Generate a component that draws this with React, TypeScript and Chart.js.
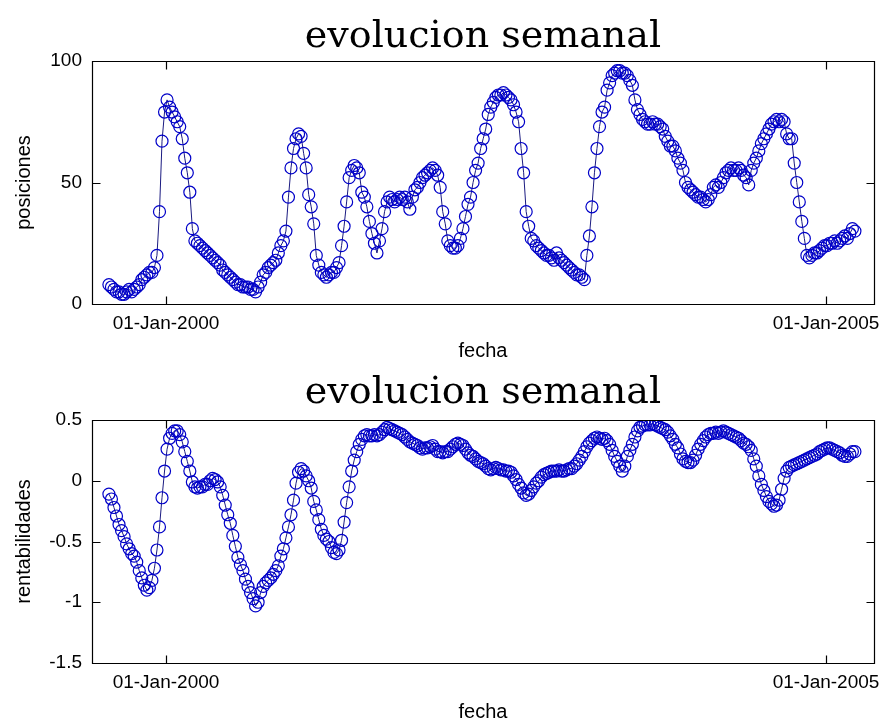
import React, { useEffect, useRef } from "react";
import { Chart, registerables } from "chart.js";

Chart.register(...registerables);

// Weekly samples: first sample is 158 days before 01-Jan-2000, one every 7 days
const FIRST_DAY = -158;
const STEP_DAYS = 7;

const posiciones: number[] = [
  8, 7, 6, 5, 5, 4, 4, 5, 6, 5,
  6, 7, 8, 10, 11, 12, 13, 13, 15, 20,
  38, 67, 79, 84, 81, 79, 77, 75, 73, 68,
  60, 54, 46, 31, 26, 25, 24, 23, 22, 21,
  20, 19, 18, 17, 16, 14, 13, 12, 11, 10,
  9, 8, 8, 7, 7, 7, 6, 6, 5, 7,
  9, 12, 13, 15, 16, 17, 18, 21, 24, 26,
  30, 44, 56, 64, 68, 70, 69, 62, 56, 45,
  40, 33, 20, 16, 13, 12, 11, 12, 13, 13,
  15, 17, 24, 32, 42, 52, 55, 57, 56, 54,
  46, 44, 40, 34, 29, 25, 21, 26, 31, 38,
  42, 44, 43, 42, 43, 44, 43, 44, 42, 39,
  44, 47, 48, 50, 52, 53, 54, 55, 56, 55,
  53, 48, 38, 33, 26, 24, 23, 23, 24, 27,
  31, 36, 41, 44, 50, 55, 58, 64, 68, 72,
  78, 81, 83, 85, 86, 86, 87, 86, 85, 84,
  82, 79, 75, 64, 54, 38, 32, 27, 26, 24,
  23, 22, 21, 20, 20, 19, 18, 21, 19, 18,
  17, 16, 15, 14, 13, 12, 12, 11, 10, 20,
  28, 40, 54, 64, 73, 79, 81, 88, 91, 94,
  95, 96, 96, 95, 95, 94, 92, 90, 84, 80,
  78, 76, 75, 74, 74, 75, 74, 74, 73, 72,
  69, 67, 65, 65, 63, 60, 58, 55, 50, 48,
  47, 46, 45, 44, 44, 43, 42, 43, 45, 48,
  49, 48, 50, 52, 54, 55, 56, 55, 55, 56,
  55, 53, 52, 49, 55, 58, 60, 63, 66, 68,
  70, 72, 74, 75, 76, 75, 76, 75, 70, 68,
  68, 58, 50, 42, 34, 27, 20, 19, 20, 21,
  21, 22, 23, 24, 24, 25, 25, 26, 25, 26,
  27, 28, 27, 29, 31, 30,
];

const rentabilidades: number[] = [
  -0.11, -0.15, -0.22, -0.29, -0.36, -0.41, -0.46, -0.52, -0.56, -0.6,
  -0.62, -0.67, -0.74, -0.8, -0.86, -0.9, -0.88, -0.82, -0.72, -0.57,
  -0.38, -0.14, 0.08, 0.26, 0.35, 0.39, 0.41, 0.41, 0.38, 0.32,
  0.24, 0.16, 0.08, -0.01, -0.05, -0.06, -0.05, -0.05, -0.03, -0.03,
  0.0, 0.02, 0.01, -0.01, -0.05, -0.12, -0.2, -0.28, -0.35, -0.45,
  -0.54, -0.63, -0.69, -0.74, -0.81, -0.87, -0.92, -0.97, -1.03, -1.0,
  -0.92, -0.87, -0.84, -0.82, -0.8, -0.77, -0.74, -0.7, -0.62, -0.56,
  -0.47, -0.38, -0.28, -0.16, -0.02, 0.07, 0.1, 0.08, 0.04, 0.0,
  -0.06, -0.17, -0.24, -0.32, -0.4, -0.45, -0.48, -0.5, -0.55, -0.59,
  -0.6, -0.57, -0.49, -0.34, -0.18, -0.05, 0.08, 0.17, 0.24, 0.3,
  0.34, 0.37, 0.38, 0.37, 0.37, 0.38, 0.37, 0.38, 0.4, 0.42,
  0.44, 0.43, 0.42, 0.41, 0.4, 0.39, 0.38, 0.36, 0.34, 0.32,
  0.31, 0.3, 0.29, 0.27, 0.26, 0.27, 0.27, 0.28, 0.29, 0.26,
  0.24, 0.24, 0.23, 0.24, 0.24, 0.26, 0.28, 0.3, 0.31, 0.3,
  0.29, 0.26, 0.23, 0.21, 0.2, 0.18, 0.16, 0.15, 0.14, 0.12,
  0.1, 0.09, 0.1, 0.11, 0.1, 0.09, 0.09, 0.08, 0.08, 0.07,
  0.04, 0.01, -0.03, -0.06, -0.1, -0.12, -0.11, -0.08, -0.05, -0.02,
  0.0, 0.03, 0.05, 0.06, 0.07, 0.08, 0.08, 0.08, 0.09, 0.08,
  0.08, 0.09, 0.1, 0.1, 0.12, 0.14, 0.17, 0.2, 0.24, 0.28,
  0.31, 0.33, 0.35, 0.36, 0.35, 0.34, 0.35, 0.33, 0.3, 0.25,
  0.2, 0.16, 0.12, 0.08, 0.12, 0.2, 0.25, 0.3, 0.36, 0.41,
  0.44, 0.45, 0.46, 0.46, 0.46, 0.47, 0.46, 0.45, 0.44, 0.43,
  0.42, 0.4, 0.37, 0.34, 0.3, 0.27, 0.22, 0.18, 0.16, 0.15,
  0.15, 0.17, 0.21, 0.26, 0.3, 0.33, 0.36, 0.38, 0.39, 0.39,
  0.4, 0.39, 0.4, 0.41, 0.4, 0.39, 0.38, 0.37, 0.36, 0.35,
  0.33, 0.31, 0.3, 0.28, 0.25, 0.18, 0.12, 0.04, -0.03, -0.08,
  -0.13, -0.17, -0.19, -0.21, -0.2, -0.16, -0.07, 0.02, 0.08, 0.11,
  0.12, 0.13, 0.14, 0.15, 0.16, 0.17, 0.18, 0.19, 0.2, 0.21,
  0.22, 0.24, 0.25, 0.26, 0.27, 0.27, 0.26, 0.25, 0.24, 0.23,
  0.21, 0.2, 0.2, 0.22, 0.24, 0.24,
];

// x axis in days relative to 01-Jan-2000
const xTickDays: number[] = [0, 1827];
const xTickLabels: string[] = ["01-Jan-2000", "01-Jan-2005"];
const X_MIN = -204.8;
const X_MAX = 1959.8;

const posTicks: number[] = [0, 50, 100];
const rentTicks: number[] = [-1.5, -1, -0.5, 0, 0.5];

const TITLE = "evolucion semanal";
const X_TITLE = "fecha";

const W = 889;
const H = 361;

const tickFont = { family: "'Liberation Sans', Arial, sans-serif", size: 19 };
const labelFont = { family: "'Liberation Sans', Arial, sans-serif", size: 20, lineHeight: 1 };
const titleFont = { family: "'DejaVu Serif', serif", size: 38, weight: "normal" as const, lineHeight: 1 };

const framePlugin = {
  id: "matlabFrame",
  afterDatasetsDraw(chart: any) {
    const { ctx, chartArea } = chart;
    const xs = chart.scales.x;
    const ys = chart.scales.y;
    const L = Math.round(chartArea.left) + 0.5;
    const R = Math.round(chartArea.right) + 0.5;
    const T = Math.round(chartArea.top) + 0.5;
    const B = Math.round(chartArea.bottom) + 0.5;
    const len = 8;
    ctx.save();
    ctx.strokeStyle = "#000";
    ctx.lineWidth = 1.2;
    ctx.beginPath();
    ctx.rect(L, T, R - L, B - T);
    xs.ticks.forEach((t: any) => {
      const px = Math.round(xs.getPixelForValue(t.value)) + 0.5;
      ctx.moveTo(px, B);
      ctx.lineTo(px, B - len);
      ctx.moveTo(px, T);
      ctx.lineTo(px, T + len);
    });
    ys.ticks.forEach((t: any) => {
      const py = Math.round(ys.getPixelForValue(t.value)) + 0.5;
      ctx.moveTo(L, py);
      ctx.lineTo(L + len, py);
      ctx.moveTo(R, py);
      ctx.lineTo(R - len, py);
    });
    ctx.stroke();
    ctx.restore();
  },
};

function makeConfig(
  values: number[],
  yLabel: string,
  yMin: number,
  yMax: number,
  yTicks: number[],
  titlePad: { top: number; bottom: number },
  xAxisHeight: number
): any {
  const points = values.map((v, i) => ({ x: FIRST_DAY + i * STEP_DAYS, y: v }));
  return {
    type: "line",
    data: {
      datasets: [
        {
          data: points,
          borderColor: "#1a1a80",
          borderWidth: 1,
          pointStyle: "circle",
          pointRadius: 6,
          pointBorderWidth: 1.2,
          pointBorderColor: "#0000c8",
          pointBackgroundColor: "rgba(0,0,0,0)",
          tension: 0,
          fill: false,
        },
      ],
    },
    options: {
      responsive: false,
      animation: false,
      events: [],
      layout: { padding: { left: 0, right: 15, top: 0, bottom: 0 } },
      plugins: {
        legend: { display: false },
        tooltip: { enabled: false },
        title: {
          display: true,
          text: TITLE,
          fullSize: false,
          color: "#000",
          font: titleFont,
          padding: titlePad,
        },
      },
      scales: {
        x: {
          type: "linear",
          min: X_MIN,
          max: X_MAX,
          grid: { display: false, drawTicks: false },
          border: { display: false },
          ticks: {
            color: "#000",
            font: tickFont,
            padding: 8,
            maxRotation: 0,
            autoSkip: false,
            callback: (v: number) => {
              const k = xTickDays.indexOf(v);
              return k >= 0 ? xTickLabels[k] : "";
            },
          },
          afterBuildTicks: (scale: any) => {
            scale.ticks = xTickDays.map((v) => ({ value: v }));
          },
          afterFit: (scale: any) => {
            scale.height = xAxisHeight;
            scale.paddingLeft = 0;
            scale.paddingRight = 0;
          },
          title: {
            display: true,
            text: X_TITLE,
            color: "#000",
            font: labelFont,
            padding: { top: 0, bottom: 0 },
          },
        },
        y: {
          type: "linear",
          min: yMin,
          max: yMax,
          grid: { display: false, drawTicks: false },
          border: { display: false },
          ticks: {
            color: "#000",
            font: tickFont,
            padding: 10,
            callback: (v: number) => String(v),
          },
          afterBuildTicks: (scale: any) => {
            scale.ticks = yTicks.map((v) => ({ value: v }));
          },
          afterFit: (scale: any) => {
            scale.width = 92;
            scale.paddingTop = 0;
            scale.paddingBottom = 0;
          },
          title: {
            display: true,
            text: yLabel,
            color: "#000",
            font: labelFont,
            padding: { top: 14, bottom: 0 },
          },
        },
      },
    },
    plugins: [framePlugin],
  };
}

function Panel(props: { cfg: () => any; top: number }) {
  const ref = useRef<HTMLCanvasElement | null>(null);
  useEffect(() => {
    if (!ref.current) return;
    const chart = new Chart(ref.current, props.cfg());
    return () => chart.destroy();
  }, []);
  return (
    <canvas
      ref={ref}
      width={W}
      height={H}
      style={{ position: "absolute", left: 0, top: props.top, width: W, height: H, display: "block" }}
    />
  );
}

export default function App() {
  return (
    <div style={{ position: "absolute", left: 0, top: 0, width: W, height: 722, background: "#fff", overflow: "hidden" }}>
      <Panel
        top={0}
        cfg={() => makeConfig(posiciones, "posiciones", 0, 100, posTicks, { top: 18, bottom: 5 }, 57)}
      />
      <Panel
        top={361}
        cfg={() => makeConfig(rentabilidades, "rentabilidades", -1.5, 0.5, rentTicks, { top: 13, bottom: 8 }, 59)}
      />
    </div>
  );
}
